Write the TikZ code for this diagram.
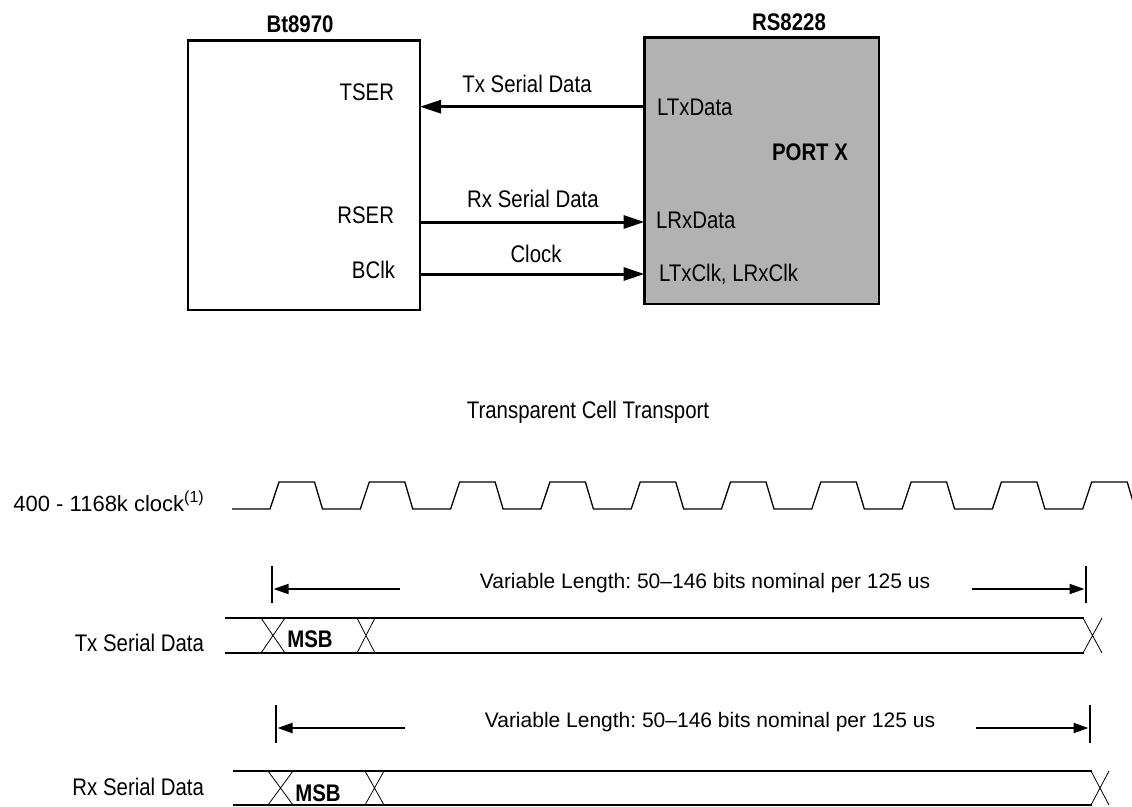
\documentclass[tikz,border=0pt]{standalone}
\usepackage{fontspec}
\setmainfont{Liberation Sans}
\newfontfamily\condfont[FakeStretch=0.85]{Liberation Sans}
\usetikzlibrary{arrows.meta}
\frenchspacing
\begin{document}
\begin{tikzpicture}[x=1pt,y=-1pt,
  cl/.style={font=\condfont\fontsize{24}{28}\selectfont, inner sep=0pt, outer sep=0pt},
  cb/.style={font=\condfont\bfseries\fontsize{24}{28}\selectfont, inner sep=0pt, outer sep=0pt},
  vl/.style={font=\fontsize{21}{25}\selectfont, inner sep=0pt, outer sep=0pt},
  chip/.style={draw, line width=2.5pt, inner sep=0pt, outer sep=0pt},
  sig/.style={line width=3pt, -{Triangle[length=21pt,width=13pt]}},
  clkline/.style={line width=1.3pt, line join=miter},
  busline/.style={line width=1.3pt},
  crossline/.style={line width=0.8pt},
  lenbar/.style={line width=2.5pt},
  lenarrow/.style={line width=2pt, -{Triangle[length=15pt,width=10pt]}}
]
\useasboundingbox (0,0) rectangle (1132,806);
\clip (0,0) rectangle (1132,806);
\fill[white] (0,0) rectangle (1132,806);

% ---- block diagram ----
\node[chip, minimum width=232pt, minimum height=269.3pt] (bt) at (304,175.35) {};
\node[chip, fill=black!30, minimum width=234.5pt, minimum height=266.7pt] (rs) at (761.75,170.65) {};
\node[cb, anchor=base] (btl) at (300,32) {Bt8970};
\node[cb, anchor=base] (rsl) at (789,30) {RS8228};

\node[cl, anchor=base east] (tser) at (394,100) {TSER};
\node[cl, anchor=base east] (rser) at (394,223) {RSER};
\node[cl, anchor=base east] (bclk) at (395,278) {BClk};

\node[cl, anchor=base west] (ltx) at (657,115) {LTxData};
\node[cb, anchor=base] (port) at (810,160) {PORT X};
\node[cl, anchor=base west] (lrx) at (656,228) {LRxData};
\node[cl, anchor=base west] (lclk) at (659,281) {LTxClk, LRxClk};

\node[cl, anchor=base] (txl) at (527,92) {Tx Serial Data};
\node[cl, anchor=base] (rxl) at (533,207) {Rx Serial Data};
\node[cl, anchor=base] (ckl) at (536,262) {Clock};

\coordinate (ytx) at (0,106.7);
\coordinate (yrx) at (0,222);
\coordinate (yck) at (0,274);
\draw[sig] (rs.west |- ytx) -- (bt.east |- ytx);
\draw[sig] (bt.east |- yrx) -- (rs.west |- yrx);
\draw[sig] (bt.east |- yck) -- (rs.west |- yck);

% ---- timing diagram ----
\node[cl, anchor=base] (title) at (588,418) {Transparent Cell Transport};
\node[font=\fontsize{22}{26}\selectfont, inner sep=0pt, anchor=base east] (clklbl) at (204,511)
  {400 - 1168k clock\raisebox{9pt}{\fontsize{16}{18}\selectfont(1)}};

\draw[clkline] (232,509)
  \foreach \k in {0,...,9} {
    -- ({270+90.3*\k},509) -- ({279+90.3*\k},482) -- ({314.5+90.3*\k},482) -- ({322.5+90.3*\k},509)
  } -- (1140,509);

% Tx length marker
\coordinate (txbl1) at (272,566); \coordinate (txbl2) at (272,603);
\coordinate (txbr1) at (1086,566); \coordinate (txbr2) at (1086,603);
\coordinate (txa1) at (400,589); \coordinate (txa2) at (273.5,589);
\coordinate (txa3) at (972,589); \coordinate (txa4) at (1084.5,589);
\draw[lenbar] (txbl1) -- (txbl2);
\draw[lenbar] (txbr1) -- (txbr2);
\draw[lenarrow] (txa1) -- (txa2);
\draw[lenarrow] (txa3) -- (txa4);
\node[vl, anchor=base] (txvar) at (705,588) {Variable Length: 50--146 bits nominal per 125 us};

% Tx bus
\node[cl, anchor=base east] (txname) at (204,651) {Tx Serial Data};
\draw[busline] (225,618) -- (1084,618);
\draw[busline] (225,653) -- (1084,653);
\draw[crossline] (261,618) -- (285,653) (261,653) -- (285,618);
\draw[crossline] (357,618) -- (375,653) (357,653) -- (375,618);
\draw[crossline] (1083,618) -- (1102,653) (1083,653) -- (1102,618);
\node[cb, anchor=base] (txmsb) at (310,647) {MSB};

% Rx length marker
\coordinate (rxbl1) at (276,705); \coordinate (rxbl2) at (276,743);
\coordinate (rxbr1) at (1090,705); \coordinate (rxbr2) at (1090,743);
\coordinate (rxa1) at (405,728); \coordinate (rxa2) at (277.5,728);
\coordinate (rxa3) at (976,728); \coordinate (rxa4) at (1088.5,728);
\draw[lenbar] (rxbl1) -- (rxbl2);
\draw[lenbar] (rxbr1) -- (rxbr2);
\draw[lenarrow] (rxa1) -- (rxa2);
\draw[lenarrow] (rxa3) -- (rxa4);
\node[vl, anchor=base] (rxvar) at (710,727) {Variable Length: 50--146 bits nominal per 125 us};

% Rx bus
\node[cl, anchor=base east] (rxname) at (204,795) {Rx Serial Data};
\draw[busline] (233,771) -- (1092,771);
\draw[busline] (233,805) -- (1092,805);
\draw[crossline] (268,771) -- (293,805) (268,805) -- (293,771);
\draw[crossline] (365,771) -- (384,805) (365,805) -- (384,771);
\draw[crossline] (1091,771) -- (1109,805) (1091,805) -- (1109,771);
\node[cb, anchor=base] (rxmsb) at (318,801) {MSB};
\end{tikzpicture}
\end{document}
